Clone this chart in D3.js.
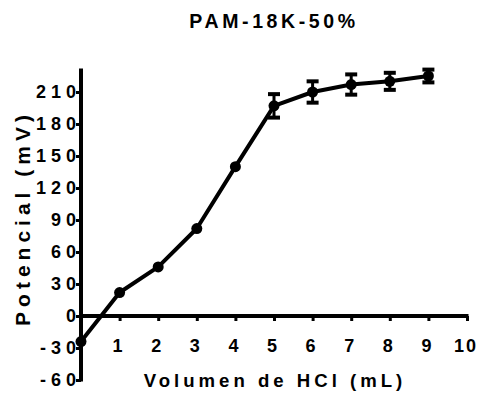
<!DOCTYPE html>
<html>
<head>
<meta charset="utf-8">
<script src="https://cdn.jsdelivr.net/npm/d3@7.9.0/dist/d3.min.js"></script>
<style>
  body { margin: 0; background: #fff; }
  text { font-family: "Liberation Sans", Arial, sans-serif; font-weight: bold; fill: #000; }
</style>
</head>
<body>
<svg id="chart" width="478" height="398"></svg>
<script>
// data
const volumes = [0, 1, 2, 3, 4, 5, 6, 7, 8, 9];
const potentials = [-24, 22, 46, 82, 140, 197, 210, 217, 220, 225];
const errors = [0, 0, 0, 0, 0, 11, 10, 9.5, 8, 6];
const xTicks = [1, 2, 3, 4, 5, 6, 7, 8, 9, 10];
const yTicks = [-60, -30, 0, 30, 60, 90, 120, 150, 180, 210];

const svg = d3.select('#chart');

let x = d3.scaleLinear().domain([0, 10]).range([81, 467]);
let y = d3.scaleLinear().domain([-60, 210]).range([380, 92]);

// plain hyphen for negatives, like the original
const fmt = (d) => String(d);

// title
svg.append('text')
  .attr('x', 274).attr('y', 28)
  .attr('text-anchor', 'middle')
  .style('font-size', '19.5px')
  .style('letter-spacing', '3.6px')
  .text('PAM-18K-50%');

// y axis
let yAxis = svg.append('g')
  .attr('transform', `translate(${x(0)},0)`)
  .call(d3.axisLeft(y).tickValues(yTicks).tickFormat(fmt).tickSize(5).tickSizeOuter(0));
yAxis.select('.domain').remove();
yAxis.append('line')
  .attr('x1', 0).attr('x2', 0)
  .attr('y1', y(232)).attr('y2', y(-60) + 1.5)
  .attr('stroke', '#000').attr('stroke-width', 4);
yAxis.selectAll('.tick line').attr('stroke-width', 3);
yAxis.selectAll('.tick text')
  .attr('x', 0)
  .style('font-size', '18px')
  .style('letter-spacing', '5px');

// x axis along zero
let xAxis = svg.append('g')
  .attr('transform', `translate(0,${y(0)})`)
  .call(d3.axisBottom(x).tickValues(xTicks).tickFormat(fmt).tickSize(5).tickSizeOuter(0));
xAxis.select('.domain').remove();
xAxis.append('line')
  .attr('x1', x(0)).attr('x2', x(10) + 1.5)
  .attr('y1', 0).attr('y2', 0)
  .attr('stroke', '#000').attr('stroke-width', 4);
xAxis.selectAll('.tick line').attr('stroke-width', 3);
xAxis.selectAll('.tick text')
  .attr('y', 23).attr('dx', '-1.5px')
  .style('font-size', '18px')
  .style('letter-spacing', '2px');

// axis titles
svg.append('text')
  .attr('transform', `translate(30,218) rotate(-90)`)
  .attr('text-anchor', 'middle')
  .style('font-size', '21px')
  .style('letter-spacing', '5px')
  .text('Potencial (mV)');

svg.append('text')
  .attr('x', 275).attr('y', 387)
  .attr('text-anchor', 'middle')
  .style('font-size', '18.6px')
  .style('letter-spacing', '4px')
  .text('Volumen de HCl (mL)');

const pts = volumes.map((v, i) => ({ v, p: potentials[i], e: errors[i] }));

// error bars
let eb = svg.append('g').selectAll('g').data(pts.filter(d => d.e > 0)).join('g');
eb.append('line')
  .attr('x1', d => x(d.v)).attr('x2', d => x(d.v))
  .attr('y1', d => y(d.p - d.e)).attr('y2', d => y(d.p + d.e))
  .attr('stroke', '#000').attr('stroke-width', 3);
eb.selectAll('.cap').data(d => [d.p - d.e, d.p + d.e].map(val => ({ v: d.v, val })))
  .join('line')
  .attr('class', 'cap')
  .attr('x1', d => x(d.v) - 6).attr('x2', d => x(d.v) + 6)
  .attr('y1', d => y(d.val)).attr('y2', d => y(d.val))
  .attr('stroke', '#000').attr('stroke-width', 4);

// line
svg.append('path')
  .datum(pts)
  .attr('d', d3.line().x(d => x(d.v)).y(d => y(d.p)))
  .attr('fill', 'none')
  .attr('stroke', '#000')
  .attr('stroke-width', 4)
  .attr('stroke-linejoin', 'round');

// markers
svg.append('g').selectAll('circle').data(pts).join('circle')
  .attr('cx', d => x(d.v)).attr('cy', d => y(d.p))
  .attr('r', 5.5)
  .attr('fill', '#000');
</script>
</body>
</html>
